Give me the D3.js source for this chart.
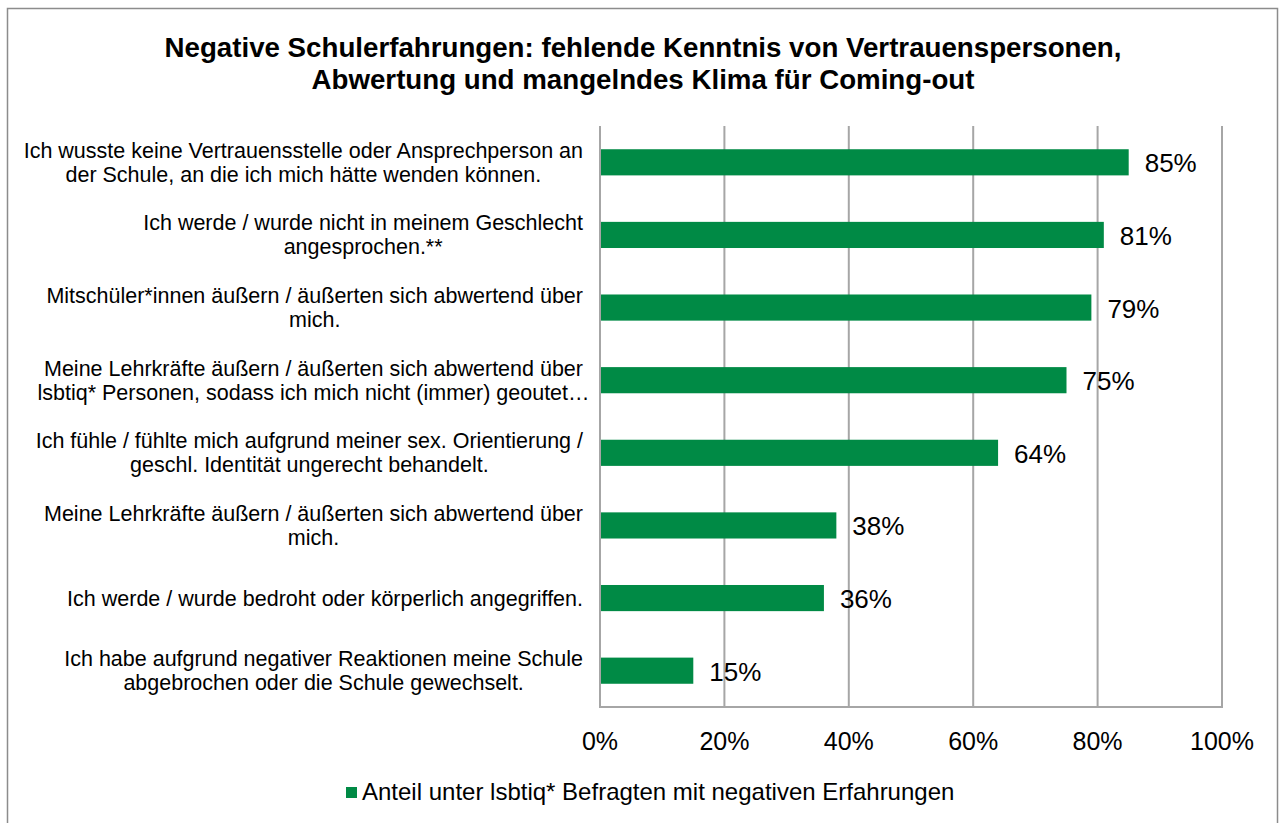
<!DOCTYPE html>
<meta charset="utf-8">
<title>Negative Schulerfahrungen</title>
<script src="https://d3js.org/d3.v7.min.js"></script>
<style>
  body { margin: 0; background: #fff; }
  svg text { font-family: "Liberation Sans", Arial, sans-serif; fill: #000; }
  .title { font-size: 27.7px; font-weight: bold; text-anchor: middle; }
  .cat { font-size: 21.5px; text-anchor: middle; }
  .tick-label { font-size: 25px; text-anchor: middle; }
  .value { font-size: 26px; }
  .legend { font-size: 24px; }
</style>
<div id="chart"></div>
<script>
// data
var categories = [
  "Ich wusste keine Vertrauensstelle oder Ansprechperson an|der Schule, an die ich mich hätte wenden können.",
  "Ich werde / wurde nicht in meinem Geschlecht|angesprochen.**",
  "Mitschüler*innen äußern / äußerten sich abwertend über|mich.",
  "Meine Lehrkräfte äußern / äußerten sich abwertend über|lsbtiq* Personen, sodass ich mich nicht (immer) geoutet…",
  "Ich fühle / fühlte mich aufgrund meiner sex. Orientierung /|geschl. Identität ungerecht behandelt.",
  "Meine Lehrkräfte äußern / äußerten sich abwertend über|mich.",
  "Ich werde / wurde bedroht oder körperlich angegriffen.",
  "Ich habe aufgrund negativer Reaktionen meine Schule|abgebrochen oder die Schule gewechselt."
];
var values = [85, 81, 79, 75, 64, 38, 36, 15];
var xTicks = [0, 20, 40, 60, 80, 100];
var titleLines = [
  "Negative Schulerfahrungen: fehlende Kenntnis von Vertrauenspersonen,",
  "Abwertung und mangelndes Klima für Coming-out"
];
var seriesName = "Anteil unter lsbtiq* Befragten mit negativen Erfahrungen";

var W = 1285, H = 823;
var green = "#008a45", grid = "#a6a6a6";

var svg = d3.select("#chart").append("svg")
    .attr("width", W)
    .attr("height", H);

// outer frame (bottom edge runs off the picture)
svg.append("rect")
    .attr("x", 7.5).attr("y", 8.5)
    .attr("width", 1270).attr("height", 840)
    .attr("fill", "none")
    .attr("stroke", "#8c8c8c")
    .attr("stroke-width", 1.5);

// title
svg.selectAll("text.title")
  .data(titleLines)
  .enter().append("text")
    .attr("class", "title")
    .attr("x", 643)
    .attr("y", function(d, i) { return 57 + i * 32; })
    .text(function(d) { return d; });

var x = d3.scaleLinear()
    .domain([0, 100])
    .range([600, 1222]);

var y = d3.scaleBand()
    .domain(categories)
    .range([126, 707])
    .paddingInner(0.64)
    .paddingOuter(0.32);

// gridlines
svg.selectAll("line.grid")
  .data(xTicks)
  .enter().append("line")
    .attr("class", "grid")
    .attr("x1", function(d) { return x(d); })
    .attr("x2", function(d) { return x(d); })
    .attr("y1", 126)
    .attr("y2", 707)
    .attr("stroke", grid)
    .attr("stroke-width", 2);

// bottom axis line
svg.append("line")
    .attr("x1", x(0) - 1).attr("x2", x(100) + 1)
    .attr("y1", 707).attr("y2", 707)
    .attr("stroke", grid)
    .attr("stroke-width", 2);

// tick labels
svg.selectAll("text.tick-label")
  .data(xTicks)
  .enter().append("text")
    .attr("class", "tick-label")
    .attr("x", function(d) { return x(d); })
    .attr("y", 750)
    .text(function(d) { return d + "%"; });

// bars
svg.selectAll("rect.bar")
  .data(categories)
  .enter().append("rect")
    .attr("class", "bar")
    .attr("x", x(0) + 1)
    .attr("y", function(d) { return y(d); })
    .attr("width", function(d, i) { return x(values[i]) - x(0) - 1; })
    .attr("height", y.bandwidth())
    .attr("fill", green);

// value labels
svg.selectAll("text.value")
  .data(categories)
  .enter().append("text")
    .attr("class", "value")
    .attr("x", function(d, i) { return x(values[i]) + 16; })
    .attr("y", function(d) { return y(d) + y.bandwidth() / 2 + 10; })
    .text(function(d, i) { return values[i] + "%"; });

// category labels: lines centred on the first line, which ends at x=583
var labelRight = 583;
categories.forEach(function(c) {
  var lines = c.split("|");
  var g = svg.append("g");
  var cy = y(c) + y.bandwidth() / 2;
  var t = g.selectAll("text")
    .data(lines)
    .enter().append("text")
      .attr("class", "cat")
      .attr("y", function(d, i) { return cy + 7.5 + (i - (lines.length - 1) / 2) * 24; })
      .text(function(d) { return d; });
  var w0 = t.node().getComputedTextLength();
  t.attr("x", labelRight - w0 / 2);
});

// legend
var lg = svg.append("g");
lg.append("rect")
    .attr("x", 346).attr("y", 787)
    .attr("width", 11).attr("height", 11)
    .attr("fill", green);
lg.append("text")
    .attr("class", "legend")
    .attr("x", 362)
    .attr("y", 800)
    .text(seriesName);
</script>
